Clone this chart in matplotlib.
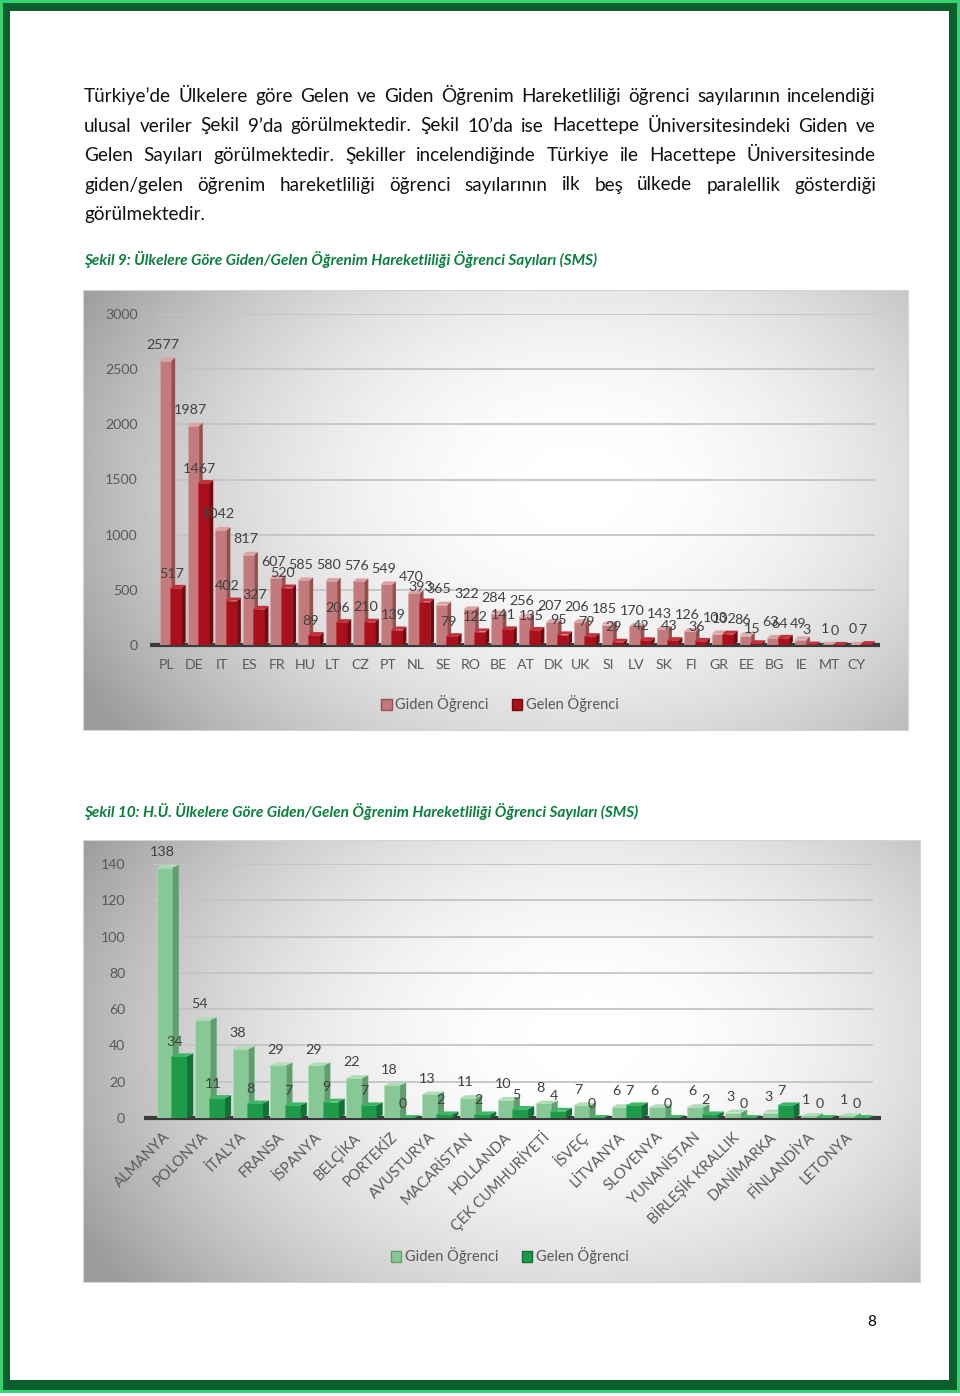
import numpy as np
import matplotlib
matplotlib.use('Agg')
import matplotlib.pyplot as plt
from matplotlib.patches import Polygon, Rectangle, Patch

plt.rcParams['font.family'] = ['Lato', 'DejaVu Sans']

# ---- veriler ----
ulke_kod = ['PL', 'DE', 'IT', 'ES', 'FR', 'HU', 'LT', 'CZ', 'PT', 'NL', 'SE', 'RO', 'BE',
            'AT', 'DK', 'UK', 'SI', 'LV', 'SK', 'FI', 'GR', 'EE', 'BG', 'IE', 'MT', 'CY']
tr_giden = [2577, 1987, 1042, 817, 607, 585, 580, 576, 549, 470, 365, 322, 284,
            256, 207, 206, 185, 170, 143, 126, 103, 86, 63, 49, 1, 0]
tr_gelen = [517, 1467, 402, 327, 520, 89, 206, 210, 139, 393, 79, 122, 141,
            135, 95, 79, 29, 42, 43, 36, 102, 15, 64, 3, 0, 7]

hu_ulke = ['ALMANYA', 'POLONYA', 'İTALYA', 'FRANSA', 'İSPANYA', 'BELÇİKA', 'PORTEKİZ',
           'AVUSTURYA', 'MACARİSTAN', 'HOLLANDA', 'ÇEK CUMHURİYETİ', 'İSVEÇ', 'LİTVANYA',
           'SLOVENYA', 'YUNANİSTAN', 'BİRLEŞİK KRALLIK', 'DANİMARKA', 'FİNLANDİYA', 'LETONYA']
hu_giden = [138, 54, 38, 29, 29, 22, 18, 13, 11, 10, 8, 7, 6, 6, 6, 3, 3, 1, 1]
hu_gelen = [34, 11, 8, 7, 9, 7, 0, 2, 2, 5, 4, 0, 7, 0, 2, 0, 7, 0, 0]

seriler = ['Giden Öğrenci', 'Gelen Öğrenci']

paragraf = [
    'Türkiye’de Ülkelere göre Gelen ve Giden Öğrenim Hareketliliği öğrenci sayılarının incelendiği',
    'ulusal veriler Şekil 9’da görülmektedir. Şekil 10’da ise Hacettepe Üniversitesindeki Giden ve',
    'Gelen Sayıları görülmektedir. Şekiller incelendiğinde Türkiye ile Hacettepe Üniversitesinde',
    'giden/gelen öğrenim hareketliliği öğrenci sayılarının ilk beş ülkede paralellik gösterdiği',
    'görülmektedir.',
]
baslik_9 = 'Şekil 9: Ülkelere Göre Giden/Gelen Öğrenim Hareketliliği Öğrenci Sayıları (SMS)'
baslik_10 = 'Şekil 10: H.Ü. Ülkelere Göre Giden/Gelen Öğrenim Hareketliliği Öğrenci Sayıları (SMS)'

W, H = 960, 1396
fig = plt.figure(figsize=(W / 100, H / 100), dpi=100)


def kutu(x0, y0, x1, y1):
    # piksel (üstten) -> figür koordinatı
    return [x0 / W, 1 - y1 / H, (x1 - x0) / W, (y1 - y0) / H]


def dikdortgen(x0, y0, x1, y1, renk, z=0):
    b = kutu(x0, y0, x1, y1)
    fig.add_artist(Rectangle((b[0], b[1]), b[2], b[3], transform=fig.transFigure,
                             facecolor=renk, edgecolor='none', zorder=z))


# sayfa çerçevesi
dikdortgen(0, 0, 960, 1393, '#36D470', -10)
dikdortgen(3, 3, 957, 1390, '#0B5E2E', -9)
dikdortgen(10, 11, 949, 1380, 'white', -8)

# paragraf (iki yana yaslı)
renderer = fig.canvas.get_renderer()
for i, satir in enumerate(paragraf):
    y = 1 - (102 + 29.5 * i) / H
    kelimeler = satir.split(' ')
    yazilar = [fig.text(0, y, k, fontsize=13.6, va='baseline', color='#111111') for k in kelimeler]
    genislik = [t.get_window_extent(renderer).width for t in yazilar]
    if i == len(paragraf) - 1 or len(kelimeler) == 1:
        bosluk = 4
    else:
        bosluk = max(2.5, (876 - 84 - sum(genislik)) / (len(kelimeler) - 1))
    x = 84
    for t, g in zip(yazilar, genislik):
        t.set_x(x / W)
        x += g + bosluk

yesil = '#0B7F3C'
fig.text(84 / W, 1 - 260 / H, baslik_9, fontsize=11.1, fontweight='bold', style='italic',
         color=yesil, va='center')
fig.text(84 / W, 1 - 811 / H, baslik_10, fontsize=11.1, fontweight='bold', style='italic',
         color=yesil, va='center')
fig.text(872 / W, 1 - 1322 / H, '8', fontsize=11, ha='center', va='center', color='black')


def arka_plan(x0, y0, x1, y1):
    bg = fig.add_axes(kutu(x0, y0, x1, y1), zorder=0)
    yy, xx = np.mgrid[0:1:200j, 0:1:300j]
    d = np.sqrt(((xx - 0.6) / 0.55) ** 2 + ((yy - 0.45) / 0.75) ** 2)
    deger = 1 - 0.25 * np.clip(d, 0, 1.25) ** 2
    bg.imshow(deger, cmap='gray', vmin=0, vmax=1, aspect='auto', extent=[0, 1, 1, 0])
    bg.set_xticks([])
    bg.set_yticks([])
    for s in bg.spines.values():
        s.set_color('#d4d4d4')


def cubuk_3d(ax, xs, vals, w, on, yan, ust, dx, dy, z):
    ax.bar(xs, vals, w, color=on, edgecolor=ust, linewidth=0.5, zorder=z)
    for x, v in zip(xs, vals):
        r = x + w / 2
        ax.add_patch(Polygon([(r, 0), (r + dx, dy), (r + dx, v + dy), (r, v)],
                             closed=True, facecolor=yan, edgecolor='none', zorder=z))
        ax.add_patch(Polygon([(x - w / 2, v), (r, v), (r + dx, v + dy), (x - w / 2 + dx, v + dy)],
                             closed=True, facecolor=ust, edgecolor='none', zorder=z))


def grafik(ax, etiketler, giden, gelen, ymax, adim, renkler, dx, dy, etiket_kayma):
    idx = np.arange(len(etiketler))
    w = 0.42
    cubuk_3d(ax, idx - 0.19, giden, w, *renkler[0], dx, dy, 3)
    cubuk_3d(ax, idx + 0.19, gelen, w, *renkler[1], dx, dy, 4)
    for x, v in zip(idx - 0.19, giden):
        ax.annotate(str(v), (x, v), xytext=(-2, 7), textcoords='offset points',
                    ha='center', va='bottom', fontsize=10.3, color='#404040', zorder=6,
                    annotation_clip=False)
    for x, v in zip(idx + 0.19, gelen):
        ax.annotate(str(v), (x, v), xytext=(-3, 6), textcoords='offset points',
                    ha='center', va='bottom', fontsize=10.3, color='#404040', zorder=6,
                    annotation_clip=False)
    ax.set_xlim(-0.5, len(etiketler) - 0.5)
    ax.set_ylim(0, ymax)
    ax.set_yticks(np.arange(0, ymax + 1, adim))
    ax.grid(axis='y', color='#c4c4c4', linewidth=1.3, zorder=1)
    ax.set_axisbelow(True)
    ax.plot([-0.75, len(etiketler) - 0.3], [0, 0], color='#3a3a3a', linewidth=3,
            solid_capstyle='butt', clip_on=False, zorder=2)
    ax.set_facecolor('none')
    for s in ax.spines.values():
        s.set_visible(False)
    ax.set_xticks(idx - etiket_kayma)
    ax.tick_params(length=0, labelsize=10.2, labelcolor='#595959')
    return idx


kirmizi = [('#C27A7D', '#94504F', '#D9A3A4'), ('#A8111B', '#720A10', '#C23039')]
yesiller = [('#88C897', '#5E9F6D', '#AEDDB7'), ('#1F9A48', '#137038', '#3DB765')]

# ---- Şekil 9 ----
arka_plan(83, 290, 908, 730)
ax1 = fig.add_axes(kutu(157.2, 314, 874.8, 645), zorder=1)
grafik(ax1, ulke_kod, tr_giden, tr_gelen, 3000, 500, kirmizi, 0.13, 28, 0.15)
ax1.set_xticklabels(ulke_kod)
ax1.tick_params(axis='y', pad=14)
ax1.tick_params(axis='x', pad=10)
fig.legend(handles=[Patch(facecolor=kirmizi[0][0], edgecolor=kirmizi[0][1], label=seriler[0]),
                    Patch(facecolor=kirmizi[1][0], edgecolor=kirmizi[1][1], label=seriler[1])],
           loc='center', bbox_to_anchor=(500 / W, 1 - 704 / H), ncol=2, frameon=False,
           fontsize=10.5, labelcolor='#595959', handlelength=0.7, handleheight=0.7,
           handletextpad=0.25, columnspacing=1.6)

# ---- Şekil 10 ----
arka_plan(83, 840, 920, 1282)
ax2 = fig.add_axes(kutu(153, 864, 873, 1118), zorder=1)
grafik(ax2, hu_ulke, hu_giden, hu_gelen, 140, 20, yesiller, 0.16, 1.6, 0.1)
ax2.set_xticklabels(hu_ulke, rotation=45, ha='right', va='center', rotation_mode='anchor')
ax2.tick_params(axis='y', pad=20)
ax2.tick_params(axis='x', pad=12, labelsize=10.6)
fig.legend(handles=[Patch(facecolor=yesiller[0][0], edgecolor=yesiller[0][1], label=seriler[0]),
                    Patch(facecolor=yesiller[1][0], edgecolor=yesiller[1][1], label=seriler[1])],
           loc='center', bbox_to_anchor=(510 / W, 1 - 1256 / H), ncol=2, frameon=False,
           fontsize=10.5, labelcolor='#595959', handlelength=0.7, handleheight=0.7,
           handletextpad=0.25, columnspacing=1.6)

fig.savefig('out.png', dpi=100)
